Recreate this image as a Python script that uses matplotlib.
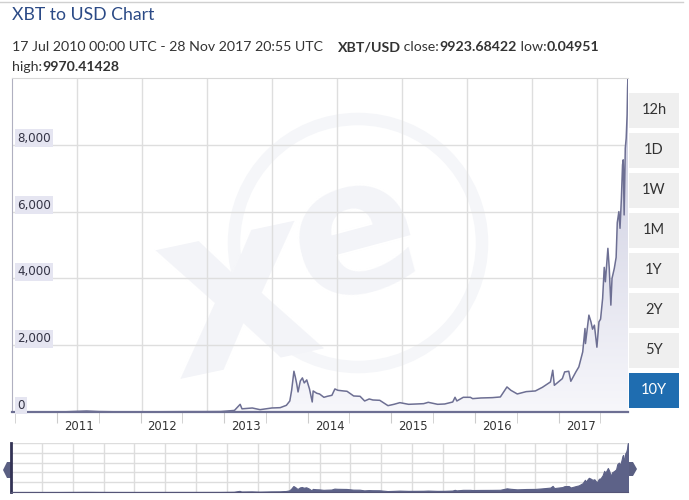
import numpy as np
import pandas as pd
import matplotlib
matplotlib.use("Agg")
import matplotlib.pyplot as plt
import matplotlib.dates as mdates
from matplotlib.colors import LinearSegmentedColormap
from matplotlib.patches import Circle, Polygon, Rectangle
from matplotlib.transforms import ScaledTranslation

# XBT/USD price history
dates = [
    "2010-07-17", "2010-11-01", "2011-02-15", "2011-06-08", "2011-08-01", "2011-11-15",
    "2012-03-01", "2012-08-15", "2012-11-01", "2013-01-15", "2013-03-15", "2013-04-09",
    "2013-04-17", "2013-06-01", "2013-07-05", "2013-08-25", "2013-10-01", "2013-10-28",
    "2013-11-12", "2013-11-20", "2013-11-30", "2013-12-06", "2013-12-12", "2013-12-18",
    "2013-12-28", "2014-01-06", "2014-01-14", "2014-01-25", "2014-02-06", "2014-02-18",
    "2014-02-22", "2014-03-10", "2014-03-22", "2014-04-10", "2014-04-25", "2014-05-15",
    "2014-05-28", "2014-06-10", "2014-07-05", "2014-07-20", "2014-08-18", "2014-09-15",
    "2014-10-05", "2014-10-25", "2014-11-10", "2014-12-10", "2015-01-15", "2015-02-10",
    "2015-03-08", "2015-04-15", "2015-05-20", "2015-06-20", "2015-07-10", "2015-08-20",
    "2015-09-20", "2015-10-25", "2015-11-04", "2015-11-12", "2015-12-10", "2016-01-10",
    "2016-01-20", "2016-02-25", "2016-04-15", "2016-05-20", "2016-06-18", "2016-07-05",
    "2016-08-02", "2016-09-10", "2016-10-20", "2016-11-20", "2016-12-25", "2017-01-04",
    "2017-01-11", "2017-02-15", "2017-02-25", "2017-03-15", "2017-03-24", "2017-04-15",
    "2017-04-28", "2017-05-15", "2017-05-25", "2017-05-27", "2017-06-11", "2017-06-20",
    "2017-06-27", "2017-07-05", "2017-07-16", "2017-07-25", "2017-08-01", "2017-08-10",
    "2017-08-17", "2017-08-22", "2017-09-02", "2017-09-08", "2017-09-15", "2017-09-20",
    "2017-09-30", "2017-10-08", "2017-10-13", "2017-10-20", "2017-10-25", "2017-10-31",
    "2017-11-05", "2017-11-08", "2017-11-12", "2017-11-17", "2017-11-21", "2017-11-25",
    "2017-11-27", "2017-11-28 09:00", "2017-11-28 20:55",
]
price = [
    0.05, 0.3, 1, 30, 13, 2.5,
    5, 11, 11, 14, 47, 230,
    95, 120, 70, 120, 130, 200,
    330, 650, 1220, 1050, 850, 600,
    930, 1020, 870, 960, 690, 300,
    630, 560, 540, 440, 470, 500,
    690, 650, 630, 620, 480, 470,
    330, 390, 360, 350, 190, 230,
    280, 230, 240, 250, 290, 230,
    240, 300, 440, 330, 440, 440,
    400, 420, 430, 450, 750, 650,
    540, 610, 630, 740, 900, 1250,
    800, 1000, 1200, 1220, 920, 1200,
    1350, 1800, 2500, 2050, 2900, 2700,
    2480, 2600, 1940, 2700, 2780, 3400,
    4330, 3900, 4900, 4300, 3200, 4000,
    4300, 4630, 5670, 6000, 5500, 6400,
    7400, 7550, 5900, 7900, 8200, 8900,
    9700, 9970.41, 9923.68,
]
years = [2011, 2012, 2013, 2014, 2015, 2016, 2017]
y_ticks = [0, 2000, 4000, 6000, 8000]
buttons = ["12h", "1D", "1W", "1M", "1Y", "2Y", "5Y", "10Y"]

x = mdates.date2num(pd.to_datetime(dates, format="mixed"))
y = np.array(price)

W, H = 689, 500
fig = plt.figure(figsize=(W / 100, H / 100), dpi=100)

# background layer in pixel coordinates
bg = fig.add_axes([0, 0, 1, 1], zorder=0)
bg.set_xlim(0, W)
bg.set_ylim(H, 0)
bg.axis("off")

bg.plot([0, 683], [1.5, 1.5], color="#d0d0d0", lw=1)

# watermark
wm = "#f3f4f8"
bg.add_patch(Circle((358, 243), 124, fill=False, lw=9, ec="#f5f6f9"))
bg.text(238, 298, "x", fontsize=172, fontweight="heavy", color=wm,
        ha="center", va="center", rotation=12, family="DejaVu Sans")
bg.text(355, 238, "e", fontsize=135, fontweight="heavy", color=wm,
        ha="center", va="center", rotation=15, family="DejaVu Sans")

# header texts
bg.text(12, 15, "XBT to USD Chart", fontsize=12.7, color="#2b4a86",
        family="Lato", va="center", ha="left")

def chain(parts, x0, y0, size=10.2):
    prev = None
    for s, bold in parts:
        kw = dict(fontsize=size, color="#333333", family="Lato",
                  fontweight="bold" if bold else "normal")
        if prev is None:
            prev = bg.text(x0, y0, s, va="center", ha="left", **kw)
        else:
            prev = bg.annotate(s, xy=(1, 0), xycoords=prev, va="bottom", ha="left", **kw)

chain([("17 Jul 2010 00:00 UTC - 28 Nov 2017 20:55 UTC    ", False), ("XBT/USD", True),
       (" close:", False), ("9923.68422", True), (" low:", False), ("0.04951", True)], 12, 47)
chain([("high:", False), ("9970.41428", True)], 12, 67)

# range buttons
for i, b in enumerate(buttons):
    top = 93 + 40 * i
    sel = b == "10Y"
    bg.add_patch(Rectangle((629, top), 50, 35, fc="#1f6db0" if sel else "#efefef", ec="none"))
    bg.text(654, top + 17.5, b, ha="center", va="center", fontsize=10.5, family="Lato",
            color="white" if sel else "#333333")

# navigator handles
bg.add_patch(Polygon([(12, 462), (7, 462), (3, 470), (7, 478), (12, 478)], fc="#5a5f82", ec="none"))
bg.add_patch(Polygon([(628, 462), (633, 462), (637, 469), (633, 476), (628, 476)], fc="#5a5f82", ec="none"))

# main chart
ax = fig.add_axes([12 / W, 1 - 412 / H, 616 / W, 334 / H], zorder=1)
ax.patch.set_alpha(0)
ax.set_xlim(x[0], x[-1])
ax.set_ylim(0, 10000)

ax.vlines(np.arange(65, 616, 65) / 616, 0, 1, transform=ax.transAxes, color="#dedede", lw=1, zorder=0)
ax.hlines(y_ticks[1:], x[0], x[-1], color="#dedede", lw=1, zorder=0)

poly = ax.fill_between(x, y, 0, facecolor="none", edgecolor="none")
cmap = LinearSegmentedColormap.from_list("fade", ["#f7f7fb", "#c6c7dc"])
grad = np.linspace(0, 1, 256).reshape(-1, 1)
im = ax.imshow(grad, extent=[x[0], x[-1], 0, 10000], origin="lower", aspect="auto",
               cmap=cmap, zorder=1)
im.set_clip_path(poly.get_paths()[0], ax.transData)
ax.plot(x, y, color="#6d6f93", lw=1.1, zorder=2)

for v in y_ticks:
    ax.text((17 - 12) / 616, v, f"{v:,}", transform=ax.get_yaxis_transform(),
            fontsize=8.6, color="#333344", va="bottom", ha="left",
            bbox=dict(boxstyle="square,pad=0.2", fc="#e5e5f1", ec="none"), zorder=3)
ax.set_yticks([])

shift = pd.Timedelta(days=29)
ax.set_xticks(mdates.date2num([pd.Timestamp(f"{yr}-01-01") + shift for yr in years]),
              [str(yr) for yr in years])
ax.set_xticks(mdates.date2num([pd.Timestamp(f"{yr}-07-01") + shift for yr in [2010] + years]),
              minor=True)
ax.tick_params(axis="x", which="both", length=8, color="#cccccc", labelsize=8.4,
               labelcolor="#333333", pad=-2)
for lab in ax.get_xticklabels():
    lab.set_horizontalalignment("left")
    lab.set_transform(lab.get_transform() + ScaledTranslation(5 / 72, 0, fig.dpi_scale_trans))

ax.spines["right"].set_visible(False)
ax.spines["top"].set_color("#d8d8d8")
ax.spines["left"].set_color("#b0b0c0")
ax.spines["bottom"].set_color("#6d6f93")
ax.spines["bottom"].set_linewidth(1.6)

# navigator
nav = fig.add_axes([11 / W, 1 - 492 / H, 617 / W, 49 / H], zorder=1)
nav.patch.set_alpha(0)
nav.set_xlim(x[0], x[-1])
nav.set_ylim(0, 10000)
nav.set_xticks(np.linspace(x[0], x[-1], 21)[1:-1])
nav.set_yticks(np.linspace(0, 10000, 6)[1:])
nav.grid(True, color="#dddddd", lw=1)
nav.set_axisbelow(True)
nav.tick_params(length=0, labelbottom=False, labelleft=False)
nav.fill_between(x, y, 0, color="#5d6288", lw=0.8)
nav.spines["left"].set_color("#333355")
nav.spines["left"].set_linewidth(2)
nav.spines["bottom"].set_color("#555577")
nav.spines["top"].set_visible(False)
nav.spines["right"].set_visible(False)

fig.savefig("out.png", dpi=100)
